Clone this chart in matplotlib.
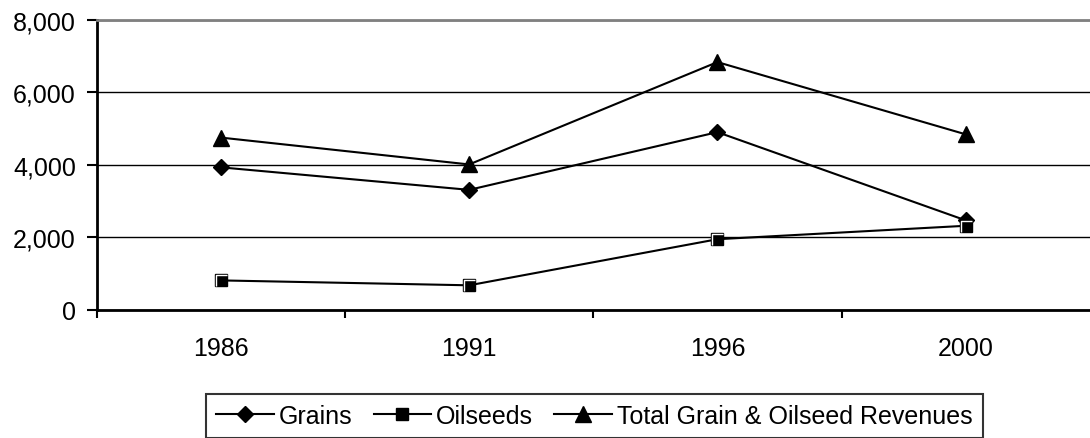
import matplotlib.pyplot as plt
from matplotlib.ticker import FuncFormatter, FixedLocator

plt.rcParams['font.family'] = ['Liberation Sans', 'DejaVu Sans']

years = ['1986', '1991', '1996', '2000']
grains = [3930, 3310, 4900, 2470]
oilseeds = [815, 680, 1950, 2320]
total = [4750, 4010, 6830, 4840]

fig = plt.figure(figsize=(10.9, 4.39), dpi=100)
ax = fig.add_axes([0.0888, 0.2916, 0.911, 0.6614])

x = list(range(len(years)))
ax.plot(x, grains, color='black', lw=1.5, marker='D', ms=8.5,
        mfc='black', mec='black', label='Grains', zorder=3)
ax.plot(x, oilseeds, color='black', lw=1.5, marker='s', ms=9,
        mfc='black', mec='black', label='Oilseeds', zorder=3)
# white highlight inside the square markers
ax.plot(x, oilseeds, ls='none', marker=[(-0.6, -0.7), (-0.6, 0.6), (0.7, 0.6)],
        ms=8, mfc='none', mec='white', mew=1.0, zorder=4)
ax.plot(x, total, color='black', lw=1.5, marker='^', ms=11,
        mfc='black', mec='black', label='Total Grain & Oilseed Revenues', zorder=3)

ax.set_xlim(-0.5, len(years) - 0.5)
ax.set_ylim(0, 8000)
ax.set_yticks([0, 2000, 4000, 6000, 8000])
ax.yaxis.set_major_formatter(FuncFormatter(lambda v, p: f'{v:,.0f}'))
ax.grid(axis='y', color='black', lw=1)

# category boundaries carry the tick marks, centres carry the labels
ax.xaxis.set_major_locator(FixedLocator([i - 0.5 for i in range(len(years))]))
ax.xaxis.set_minor_locator(FixedLocator(x))
ax.set_xticklabels([], minor=False)
ax.set_xticklabels(years, minor=True)
ax.tick_params(axis='x', which='major', length=6, width=1.5, direction='out')
ax.tick_params(axis='x', which='minor', length=0, pad=19, labelsize=18)
ax.tick_params(axis='y', length=7, width=1.5, direction='out', pad=8, labelsize=18)

for side in ['left', 'bottom']:
    ax.spines[side].set_linewidth(2)
ax.spines['top'].set_color('#808080')
ax.spines['top'].set_linewidth(2)
ax.spines['right'].set_visible(False)

leg = fig.legend(loc='upper center', bbox_to_anchor=(0.5454, 0.1002), ncol=3,
                 fontsize=18, frameon=True, fancybox=False, edgecolor='black',
                 handlelength=2.3, handletextpad=0.2, columnspacing=0.85,
                 borderpad=0.4, borderaxespad=0)
leg.get_frame().set_linewidth(1.5)

fig.savefig('out.png', dpi=100, facecolor='white')
